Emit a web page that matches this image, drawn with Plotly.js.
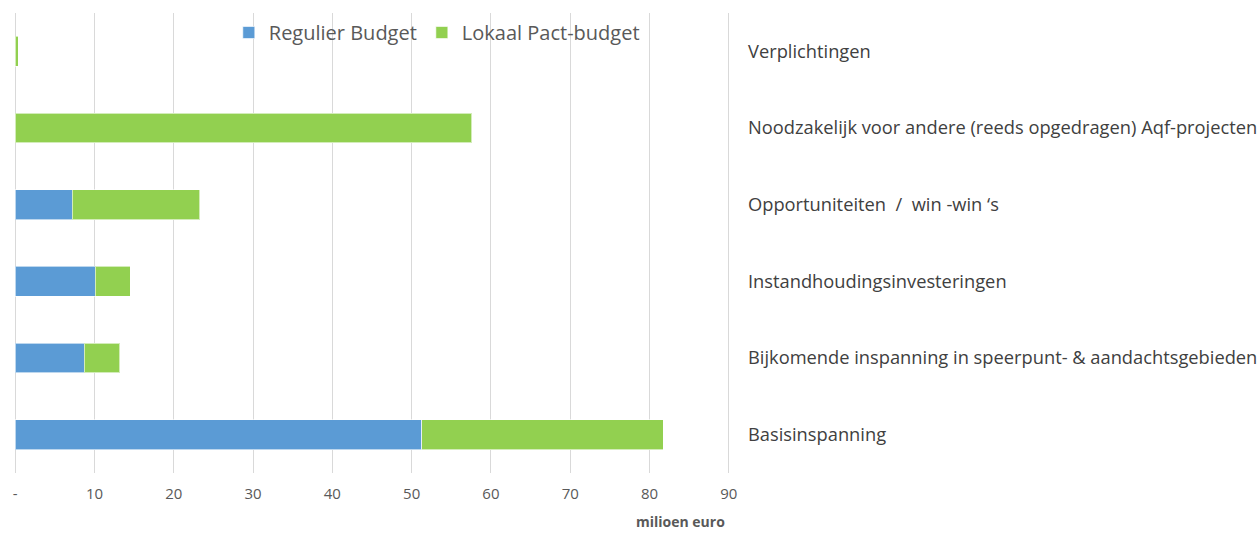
<!DOCTYPE html>
<html>
<head>
<meta charset="utf-8">
<script src="https://cdn.plot.ly/plotly-3.0.1.min.js"></script>
<style>html,body{margin:0;padding:0;background:#fff;}#chart{width:1260px;height:533px;}</style>
</head>
<body>
<div id="chart"></div>
<script>
const categories = [
  "Basisinspanning",
  "Bijkomende inspanning in speerpunt- & aandachtsgebieden",
  "Instandhoudingsinvesteringen",
  "Opportuniteiten  /  win -win ‘s",
  "Noodzakelijk voor andere (reeds opgedragen) Aqf-projecten",
  "Verplichtingen"
];
const regulierBudget = [51.3, 8.7, 10.1, 7.2, 0, 0];
const lokaalPactBudget = [30.4, 4.5, 4.4, 16.1, 57.6, 0.4];
const tickValues = [0, 10, 20, 30, 40, 50, 60, 70, 80, 90];
const tickLabels = ["-", "10", "20", "30", "40", "50", "60", "70", "80", "90"];

const font = "Open Sans, Liberation Sans, sans-serif";

const traces = [
  {
    type: "bar", orientation: "h", name: "Regulier Budget",
    y: categories, x: regulierBudget,
    marker: {color: "#5b9bd5", line: {color: "rgba(255,255,255,0.6)", width: 1}},
    hoverinfo: "x+name"
  },
  {
    type: "bar", orientation: "h", name: "Lokaal Pact-budget",
    y: categories, x: lokaalPactBudget,
    marker: {color: "#92d050", line: {color: "rgba(255,255,255,0.6)", width: 1}},
    hoverinfo: "x+name"
  }
];

const layout = {
  width: 1260, height: 533,
  margin: {l: 14, r: 530, t: 13, b: 60},
  paper_bgcolor: "#fff", plot_bgcolor: "#fff",
  barmode: "stack",
  bargap: 0.61,
  font: {family: font, color: "#404040"},
  showlegend: true,
  legend: {
    orientation: "h", x: 0.30, y: 1.0, xanchor: "left", yanchor: "top",
    font: {size: 20, color: "#595959", family: font},
    bgcolor: "rgba(0,0,0,0)", itemwidth: 30, traceorder: "normal"
  },
  xaxis: {
    range: [-0.15, 90.15],
    tickvals: tickValues, ticktext: tickLabels,
    showgrid: true, gridcolor: "#d9d9d9", gridwidth: 1,
    zeroline: false, showline: false,
    tickfont: {size: 15, color: "#595959", family: font},
    ticks: "", ticklabelstandoff: 10
  },
  yaxis: {
    categoryorder: "array", categoryarray: categories,
    range: [-0.5, 5.5],
    side: "right",
    showgrid: false, zeroline: false, showline: false,
    ticks: "", ticklabelstandoff: 17,
    tickfont: {size: 18.3, color: "#404040", family: font}
  },
  annotations: [
    {
      text: "<b>milioen euro</b>", xref: "paper", yref: "paper",
      x: 0.931, y: 0, yshift: -48, xanchor: "center", yanchor: "middle",
      showarrow: false, font: {size: 14, color: "#595959", family: font}
    }
  ]
};

Plotly.newPlot("chart", traces, layout, {displayModeBar: false, staticPlot: true});
</script>
</body>
</html>
